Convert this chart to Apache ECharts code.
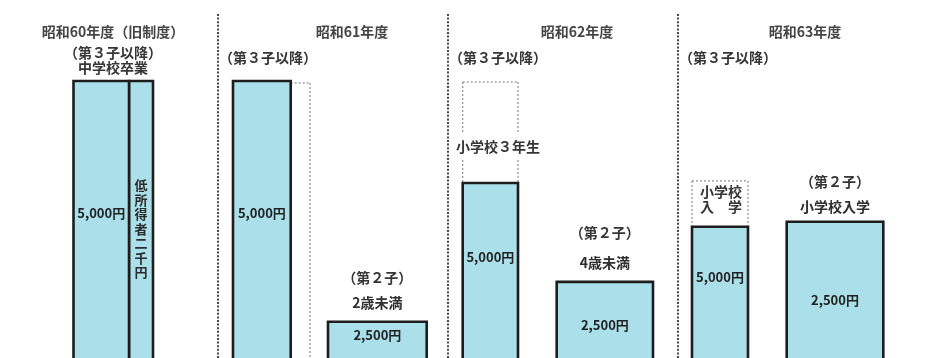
<!DOCTYPE html>
<html>
<head>
<meta charset="utf-8">
<script src="https://cdn.jsdelivr.net/npm/echarts@6/dist/echarts.min.js"></script>
<style>
  html, body { margin: 0; padding: 0; background: #ffffff; }
  #chart { width: 938px; height: 358px; }
</style>
</head>
<body>
<div id="chart"></div>
<script>
// 児童手当：支給対象の段階的な拡大（昭和60〜63年度）
const years = ['昭和60年度（旧制度）', '昭和61年度', '昭和62年度', '昭和63年度'];

// 第３子以降
const thirdGroup = ['（第３子以降）', '（第３子以降）', '（第３子以降）', '（第３子以降）'];
const thirdAge = ['中学校卒業', '', '小学校３年生', '小学校\n入　学'];
const thirdAmount = ['5,000円', '5,000円', '5,000円', '5,000円'];
const thirdLevel = [100, 100, 63.2, 47.4];          // 支給対象年齢の高さ（図上の尺度）
const thirdPrevLevel = [null, null, 100, 64.3];     // 前年度までの範囲（点線）

// 低所得者加算
const lowIncomeText = ['低所得者二千円', '', '', ''];
const lowIncomeLevel = [100, null, null, null];
const lowIncomePrevLevel = [null, 100, null, null];

// 第２子
const secondGroup = ['', '（第２子）', '（第２子）', '（第２子）'];
const secondAge = ['', '2歳未満', '4歳未満', '小学校入学'];
const secondAmount = ['', '2,500円', '2,500円', '2,500円'];
const secondLevel = [null, 13.1, 27.5, 49.2];

// ---- drawing layout (pixel offsets from each year's band centre) ----
const layout = {
  titleY: 32,
  titleDx: [10, 19, 14, 12],
  groupY: [53, 58, 58, 58],
  groupDx: [10, null, null, null],      // null: left-aligned at the band edge
  main: [[-29.5, 26], [-100, -42.3], [-100.3, -45], [-101, -45]],
  mainLabelDy: [132, 132, 74, 50],
  ageOffset: [[10, -13], null, [-65, -36], [-72, -27.5]],
  ghostBreak: [null, null, [-51, -23], null],
  strip: [[26, 50], [-42.3, -23], null, null],
  stripLabelDy: 148,
  second: [null, [-5, 93.7], [-6.3, 90], [-6.3, 90.3]],
  secondGroupDy: [null, -44, -49, -40],
  secondAgeDy: [null, -19, -19, -15],
  secondLabelDy: [null, 13, 43, 78],
  dividerTop: 14
};

const FILL = '#abe0ea';
const EDGE = '#1d1d1d';
const DOT = '#8d8d8d';
const FONT = '"Noto Sans CJK JP", "Noto Sans", sans-serif';

function txt(x, y, text, size, weight, color, align, lineHeight) {
  return {
    type: 'text', x: x, y: y,
    style: {
      text: text, font: weight + ' ' + size + 'px ' + FONT, fill: color,
      align: align || 'center', verticalAlign: 'middle',
      lineHeight: lineHeight || size + 2
    }
  };
}
function dotted(x1, y1, x2, y2, color, width, dash) {
  return {
    type: 'line', shape: { x1: x1, y1: y1, x2: x2, y2: y2 },
    style: { stroke: color || DOT, lineWidth: width || 1.2, lineDash: dash || [2, 2] }
  };
}
function bar(x1, x2, top, base) {
  return {
    type: 'rect', shape: { x: x1, y: top, width: x2 - x1, height: base - top + 12 },
    style: { fill: FILL, stroke: EDGE, lineWidth: 2.6 }
  };
}
function pts(arr) {
  const out = [];
  arr.forEach(function (v, i) { if (v != null) out.push([i, v]); });
  return out;
}
function base(params) { return params.coordSys.y + params.coordSys.height; }

const chart = echarts.init(document.getElementById('chart'));

chart.setOption({
  backgroundColor: '#ffffff',
  animation: false,
  grid: { left: -12, width: 920, top: 81, bottom: 0, outerBoundsMode: 'none', containLabel: false },
  xAxis: { type: 'category', data: years, show: false, boundaryGap: true },
  yAxis: { type: 'value', min: 0, max: 100, show: false },
  series: [
    {
      // 年度の区切り（点線）
      name: 'divider', type: 'custom', clip: false, silent: true,
      data: [[0, 0], [1, 0], [2, 0]],
      renderItem: function (params, api) {
        const i = api.value(0);
        const x = api.coord([i, 0])[0] + api.size([1, 0])[0] / 2;
        return dotted(x, layout.dividerTop, x, base(params) + 5, '#4a4a4a', 2, [2, 1.6]);
      }
    },
    {
      // 年度見出し
      name: 'header', type: 'custom', clip: false, silent: true,
      data: years.map(function (y, i) { return [i, 100]; }),
      renderItem: function (params, api) {
        const i = api.value(0);
        const cx = api.coord([i, 0])[0];
        const half = api.size([1, 0])[0] / 2;
        const children = [txt(cx + layout.titleDx[i], layout.titleY, years[i], 14, 'bold', '#454545')];
        if (layout.groupDx[i] != null) {
          children.push(txt(cx + layout.groupDx[i], layout.groupY[i], thirdGroup[i], 14, 'bold', '#363636'));
        } else {
          children.push(txt(cx - half + 1, layout.groupY[i], thirdGroup[i], 14, 'bold', '#363636', 'left'));
        }
        return { type: 'group', children: children };
      }
    },
    {
      name: '低所得者', type: 'custom', clip: false, silent: true,
      data: pts(lowIncomeLevel.map(function (v, i) { return v != null ? v : lowIncomePrevLevel[i]; })),
      renderItem: function (params, api) {
        const i = api.value(0);
        const cx = api.coord([i, 0])[0];
        const top = api.coord([i, api.value(1)])[1];
        const b = base(params);
        const s = layout.strip[i];
        if (lowIncomeLevel[i] != null) {
          const label = lowIncomeText[i].split('').join('\n');
          return { type: 'group', children: [
            bar(cx + s[0], cx + s[1], top, b),
            txt(cx + (s[0] + s[1]) / 2, top + layout.stripLabelDy, label, 13, 'bold', '#2a2a2a', 'center', 14.5)
          ] };
        }
        return { type: 'group', children: [
          dotted(cx + s[0], top + 2, cx + s[1], top + 2),
          dotted(cx + s[1], top + 2, cx + s[1], b + 5)
        ] };
      }
    },
    {
      name: '第３子以降', type: 'custom', clip: false, silent: true,
      data: pts(thirdLevel),
      renderItem: function (params, api) {
        const i = api.value(0);
        const cx = api.coord([i, 0])[0];
        const top = api.coord([i, api.value(1)])[1];
        const b = base(params);
        const m = layout.main[i];
        const children = [];
        if (thirdPrevLevel[i] != null) {
          const pt = api.coord([i, thirdPrevLevel[i]])[1] + 1;
          children.push(dotted(cx + m[0], pt, cx + m[1], pt));
          const br = layout.ghostBreak[i];
          [m[0], m[1]].forEach(function (dx) {
            if (br) {
              children.push(dotted(cx + dx, pt, cx + dx, top + br[0]));
              children.push(dotted(cx + dx, top + br[1], cx + dx, top));
            } else {
              children.push(dotted(cx + dx, pt, cx + dx, top));
            }
          });
        }
        children.push(bar(cx + m[0], cx + m[1], top, b));
        children.push(txt(cx + (m[0] + m[1]) / 2, top + layout.mainLabelDy[i], thirdAmount[i], 13, 'bold', '#222'));
        const ao = layout.ageOffset[i];
        if (ao && thirdAge[i]) {
          children.push(txt(cx + ao[0], top + ao[1], thirdAge[i], 14, 'bold', '#363636', 'center', 15));
        }
        return { type: 'group', children: children };
      }
    },
    {
      name: '第２子', type: 'custom', clip: false, silent: true,
      data: pts(secondLevel),
      renderItem: function (params, api) {
        const i = api.value(0);
        const cx = api.coord([i, 0])[0];
        const top = api.coord([i, api.value(1)])[1];
        const b = base(params);
        const s = layout.second[i];
        const mid = cx + (s[0] + s[1]) / 2;
        return { type: 'group', children: [
          bar(cx + s[0], cx + s[1], top, b),
          txt(mid, top + layout.secondLabelDy[i], secondAmount[i], 13, 'bold', '#222'),
          txt(mid, top + layout.secondGroupDy[i], secondGroup[i], 14, 'bold', '#363636'),
          txt(mid, top + layout.secondAgeDy[i], secondAge[i], 14, 'bold', '#2e2e2e')
        ] };
      }
    }
  ]
});
</script>
</body>
</html>
